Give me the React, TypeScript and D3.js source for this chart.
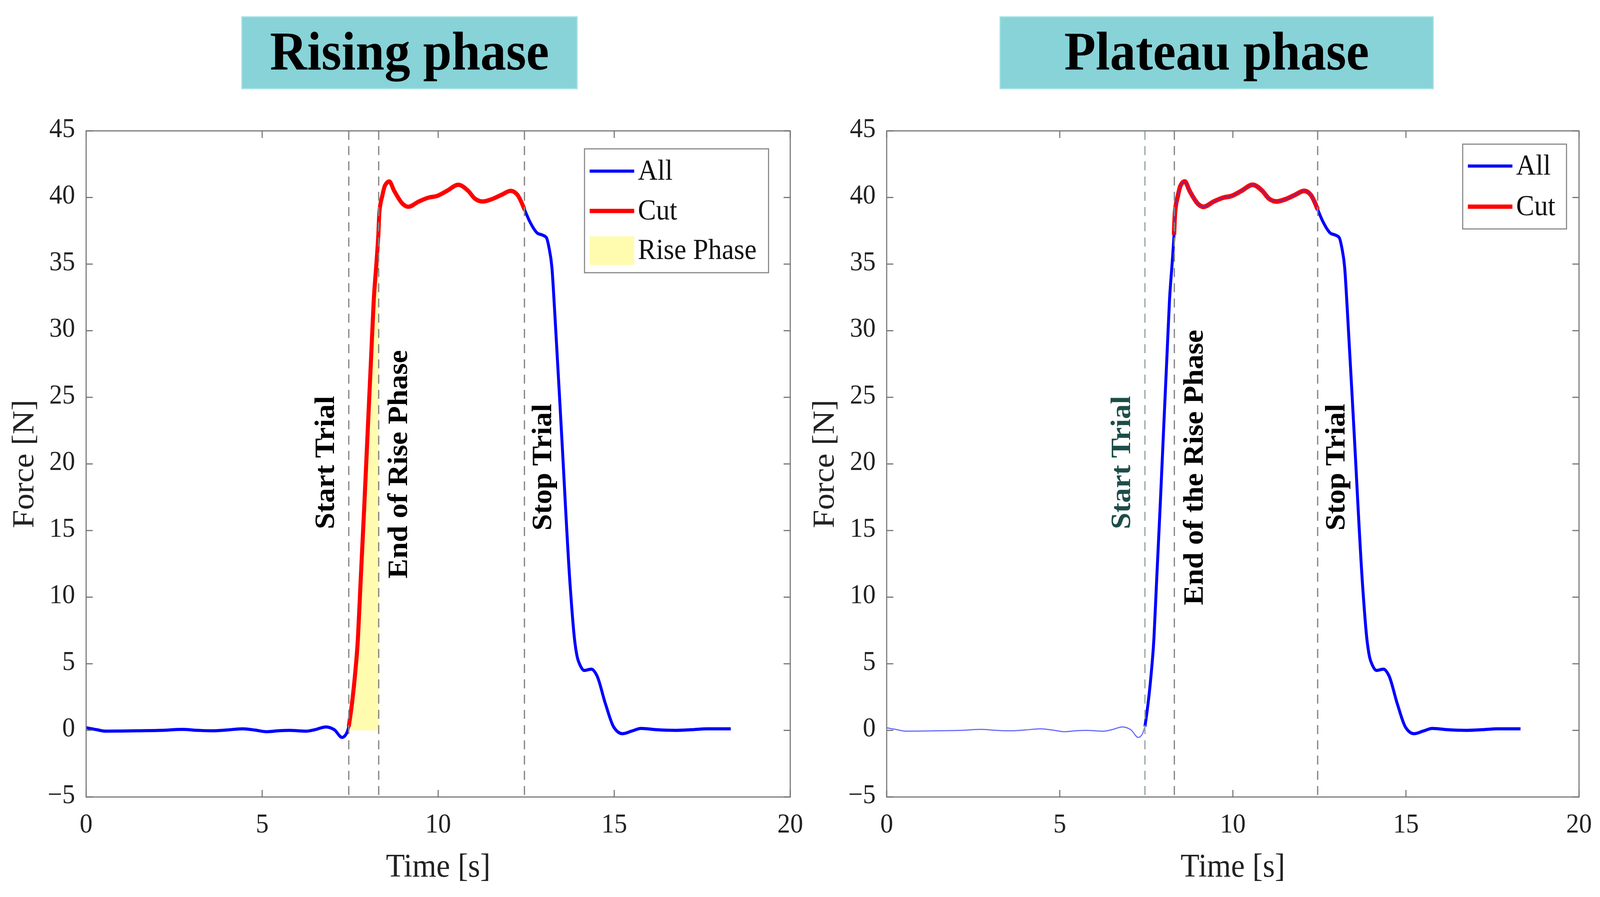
import React from "react"
import * as d3 from "d3"

// force trace (both panels show the same trial)
const timeS = [
  0.0, 0.3, 0.55, 1.0, 1.45, 2.1, 2.73, 3.2, 3.59, 4.0, 4.44, 4.8, 5.13, 5.5, 5.77, 6.25, 6.5, 6.81, 7.05,
  7.27, 7.38, 7.46, 7.55, 7.63, 7.72, 7.79, 7.9, 8.0, 8.1, 8.17, 8.25, 8.3, 8.33, 8.41, 8.49, 8.61, 8.75,
  9.0, 9.15, 9.45, 9.74, 9.95, 10.25, 10.57, 10.85, 11.05, 11.26, 11.55, 11.8, 12.06, 12.25, 12.45, 12.6,
  12.83, 12.94, 13.07, 13.15, 13.23, 13.31, 13.5, 13.75, 13.87, 13.95, 14.03, 14.15, 14.35, 14.51, 14.75,
  14.99, 15.23, 15.5, 15.76, 16.2, 16.75, 17.2, 17.64, 18.31,
]
const forceN = [
  0.2, 0.05, -0.06, -0.05, -0.03, 0.0, 0.07, 0.0, -0.03, 0.03, 0.12, 0.02, -0.1, -0.02, 0.0, -0.06, 0.05, 0.26, 0.05,
  -0.53, -0.3, 0.29, 2.0, 3.95, 6.9, 10.8, 16.8, 22.6, 28.3, 32.3, 35.2, 37.2, 38.9, 40.1, 40.9, 41.2, 40.5,
  39.5, 39.3, 39.7, 40.0, 40.1, 40.5, 40.95, 40.5, 39.9, 39.7, 39.9, 40.2, 40.5, 40.2, 39.1, 38.2,
  37.3, 37.2, 37.0, 36.2, 34.75, 31.4, 22.5, 10.8, 6.9, 5.5, 4.9, 4.5, 4.6, 4.1, 2.0,
  0.23, -0.25, -0.05, 0.15, 0.05, 0.0, 0.05, 0.12, 0.12,
]

const xTicks = [0, 5, 10, 15, 20]
const yTicks = [-5, 0, 5, 10, 15, 20, 25, 30, 35, 40, 45]

// event markers [s]
const startTrial = 7.46
const riseEnd = 8.31
const stopTrial = 12.45
const plateauCutStart = 8.3

const panelTitles = ["Rising phase", "Plateau phase"]
const riseLabels = ["End of Rise Phase", "End of the Rise Phase"]

type P = { t: number; f: number }
const pts: P[] = timeS.map((t, i) => ({ t, f: forceN[i] }))

const forceAt = (t: number) => {
  const i = Math.max(0, d3.bisectRight(timeS, t) - 1)
  if (i >= timeS.length - 1) return forceN[forceN.length - 1]
  const k = (t - timeS[i]) / (timeS[i + 1] - timeS[i])
  return forceN[i] + k * (forceN[i + 1] - forceN[i])
}

const slice = (a: number, b: number): P[] => {
  const inner = pts.filter((p) => p.t > a && p.t < b)
  return [{ t: a, f: forceAt(a) }, ...inner, { t: b, f: forceAt(b) }]
}

const W = 4347
const H = 2296
const top = 335
const bottom = 2040
const serif = "'Liberation Serif', 'Times New Roman', serif"

type PanelProps = {
  variant: 0 | 1
  x0: number
  x1: number
  boxX0: number
  boxX1: number
}

const Panel = ({ variant, x0, x1, boxX0, boxX1 }: PanelProps) => {
  const x = d3.scaleLinear().domain([0, 20]).range([x0, x1])
  const y = d3.scaleLinear().domain([-5, 45]).range([bottom, top])
  const line = d3
    .line<P>()
    .x((d) => x(d.t))
    .y((d) => y(d.f))
    .curve(d3.curveMonotoneX)
  const area = d3
    .area<P>()
    .x((d) => x(d.t))
    .y0(y(0))
    .y1((d) => y(d.f))
    .curve(d3.curveMonotoneX)

  const tickLen = 18
  const dash = "23 16"
  const lastT = timeS[timeS.length - 1]
  const cutA = variant === 0 ? startTrial : plateauCutStart

  const events = [
    { t: startTrial, label: "Start Trial", dx: -40, fy: 15.1, color: variant === 0 ? "#000" : "#1d4d49", lineColor: variant === 0 ? "#888" : "#97aaa6" },
    { t: riseEnd, label: riseLabels[variant], dx: 77, fy: variant === 0 ? 11.4 : 9.4, color: "#000", lineColor: "#888" },
    { t: stopTrial, label: "Stop Trial", dx: 73, fy: 15.0, color: "#000", lineColor: "#888" },
  ]

  const legend =
    variant === 0
      ? { x: 1588, y: 381, w: 500, h: 317, rows: [{ label: "All", kind: "line", color: "#0000ff", w: 8, cy: 438 }, { label: "Cut", kind: "line", color: "#ff0000", w: 11, cy: 540 }, { label: "Rise Phase", kind: "patch", color: "#fffcaf", w: 0, cy: 641 }] }
      : { x: 3974, y: 369, w: 282, h: 217, rows: [{ label: "All", kind: "line", color: "#0000ff", w: 8, cy: 425 }, { label: "Cut", kind: "line", color: "#ff0000", w: 11, cy: 529 }] }

  return (
    <g>
      {/* title box */}
      <rect x={boxX0} y={43} width={boxX1 - boxX0} height={184} fill="#87d3d8" stroke="#a9e2e5" strokeWidth={3} />
      <text x={(boxX0 + boxX1) / 2} y={178} textAnchor="middle" fontFamily={serif} fontWeight="bold" fontSize={140} fill="#000">
        {panelTitles[variant]}
      </text>

      {/* rise phase fill */}
      {variant === 0 && <path d={area(slice(startTrial, riseEnd)) ?? ""} fill="#fffcaf" />}

      {/* curves */}
      {variant === 0 ? (
        <>
          <path d={line(pts) ?? ""} fill="none" stroke="#0000ff" strokeWidth={8} strokeLinejoin="round" />
          <path d={line(slice(cutA, stopTrial)) ?? ""} fill="none" stroke="#ff0000" strokeWidth={11} strokeLinejoin="round" />
        </>
      ) : (
        <>
          <path d={line(slice(0, startTrial)) ?? ""} fill="none" stroke="#6b6bff" strokeWidth={3} />
          <path d={line(slice(startTrial, lastT)) ?? ""} fill="none" stroke="#0000ff" strokeWidth={8} strokeLinejoin="round" />
          <path d={line(slice(cutA, stopTrial)) ?? ""} fill="none" stroke="#ff0000" strokeWidth={12} strokeLinejoin="round" />
          <path d={line(slice(cutA, stopTrial)) ?? ""} fill="none" stroke="#5030d0" strokeWidth={2.5} opacity={0.8} />
        </>
      )}

      {/* event lines and labels */}
      {events.map((e) => (
        <g key={e.label}>
          <line x1={x(e.t)} x2={x(e.t)} y1={top} y2={bottom} stroke={e.lineColor} strokeWidth={3.5} strokeDasharray={dash} />
          <text
            transform={`translate(${x(e.t) + e.dx},${y(e.fy)}) rotate(-90)`}
            fontFamily={serif}
            fontWeight="bold"
            fontSize={76}
            fill={e.color}
          >
            {e.label}
          </text>
        </g>
      ))}

      {/* axes box */}
      <rect x={x0} y={top} width={x1 - x0} height={bottom - top} fill="none" stroke="#777" strokeWidth={3} />
      {xTicks.map((t) => (
        <g key={"x" + t}>
          <line x1={x(t)} x2={x(t)} y1={bottom} y2={bottom - tickLen} stroke="#777" strokeWidth={3} />
          <line x1={x(t)} x2={x(t)} y1={top} y2={top + tickLen} stroke="#777" strokeWidth={3} />
          <text x={x(t)} y={2131} textAnchor="middle" fontFamily={serif} fontSize={70} fill="#222">
            {t}
          </text>
        </g>
      ))}
      {yTicks.map((v) => (
        <g key={"y" + v}>
          <line x1={x0} x2={x0 + tickLen} y1={y(v)} y2={y(v)} stroke="#777" strokeWidth={3} />
          <line x1={x1} x2={x1 - tickLen} y1={y(v)} y2={y(v)} stroke="#777" strokeWidth={3} />
          <text x={x0 - 30} y={y(v) + 16} textAnchor="end" fontFamily={serif} fontSize={70} fill="#222">
            {v < 0 ? "\u2212" + Math.abs(v) : v}
          </text>
        </g>
      ))}
      <text x={(x0 + x1) / 2} y={2244} textAnchor="middle" fontFamily={serif} fontSize={84} fill="#222">
        Time [s]
      </text>
      <text transform={`translate(${x0 - 144},${(top + bottom) / 2}) rotate(-90)`} textAnchor="middle" fontFamily={serif} fontSize={84} fill="#222">
        Force [N]
      </text>

      {/* legend */}
      <rect x={legend.x} y={legend.y} width={legend.w} height={legend.h} fill="#fff" stroke="#888" strokeWidth={3} />
      {legend.rows.map((r) => (
        <g key={r.label}>
          {r.kind === "line" ? (
            <line x1={legend.x + 14} x2={legend.x + 135} y1={r.cy} y2={r.cy} stroke={r.color} strokeWidth={r.w} />
          ) : (
            <rect x={legend.x + 14} y={r.cy - 36} width={121} height={73} fill={r.color} />
          )}
          <text x={legend.x + 145} y={r.cy + 22} fontFamily={serif} fontSize={74} fill="#111">
            {r.label}
          </text>
        </g>
      ))}
    </g>
  )
}

export default function App() {
  return (
    <div style={{ position: "fixed", left: 0, top: 0, width: "100vw", height: "100vh", overflow: "hidden", background: "#fff" }}>
      <svg width="100%" height="100%" viewBox={`0 0 ${W} ${H}`} preserveAspectRatio="none" style={{ display: "block" }}>
        <rect width={W} height={H} fill="#fff" />
        <Panel variant={0} x0={234} x1={2147} boxX0={657} boxX1={1568} />
        <Panel variant={1} x0={2409} x1={4290} boxX0={2717} boxX1={3894} />
      </svg>
    </div>
  )
}
